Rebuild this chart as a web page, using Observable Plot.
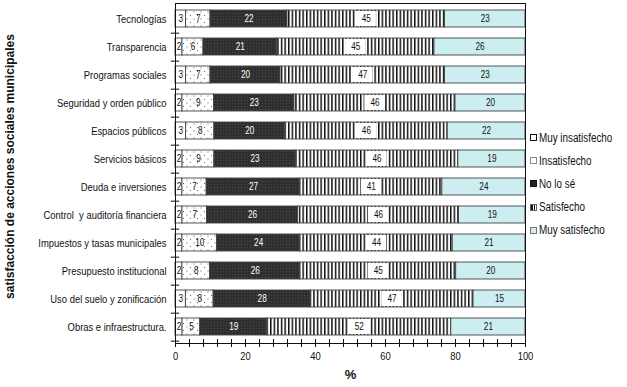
<!DOCTYPE html>
<html><head><meta charset="utf-8">
<script src="https://cdn.jsdelivr.net/npm/d3@7"></script>
<script src="https://cdn.jsdelivr.net/npm/@observablehq/plot@0.6"></script>
<style>
body{margin:0;background:#fff;}
#wrap{position:relative;width:627px;height:387px;overflow:hidden;}
#legend{position:absolute;left:530px;top:126px;font-family:"Liberation Sans",Arial,sans-serif;font-size:12px;color:#111;}
#legend .it{display:flex;align-items:center;height:23.2px;white-space:nowrap;}
#legend .sw{width:7px;height:7px;margin-right:2px;box-sizing:border-box;flex:none;}
#legend span{display:inline-block;transform:scaleX(0.82);transform-origin:left center;}
</style></head>
<body><div id="wrap"><div id="legend"></div></div>
<script>
const categories = ["Tecnologías","Transparencia","Programas sociales","Seguridad y orden público","Espacios públicos","Servicios básicos","Deuda e inversiones","Control  y auditoría financiera","Impuestos y tasas municipales","Presupuesto institucional","Uso del suelo y zonificación","Obras e infraestructura."];
const levels = ["Muy insatisfecho","Insatisfecho","No lo sé","Satisfecho","Muy satisfecho"];
const muyInsatisfecho = [3,2,3,2,3,2,2,2,2,2,3,2];
const insatisfecho   = [7,6,7,9,8,9,7,7,10,8,8,5];
const noLoSe         = [22,21,20,23,20,23,27,26,24,26,28,19];
const satisfecho     = [45,45,47,46,46,46,41,46,44,45,47,52];
const muySatisfecho  = [23,26,23,20,22,19,24,19,21,20,15,21];
const xTicks = [0,20,40,60,80,100];
const minorStep = 4;
const yTitle = "satisfacción de acciones sociales municipales";
const xTitle = "%";

const series = [muyInsatisfecho, insatisfecho, noLoSe, satisfecho, muySatisfecho];
const rows = [];
categories.forEach((cat, i) => {
  const total = d3.sum(series, s => s[i]);
  let acc = 0;
  series.forEach((s, k) => {
    const share = s[i] * 100 / total;
    rows.push({cat, level: levels[k], value: s[i], x1: acc, x2: acc + share, mid: acc + share / 2});
    acc += share;
  });
});

const W = 627, H = 387, mT = 3, mB = 44, mL = 175, mR = 102;
const step = (H - mT - mB) / categories.length;
const font = '"Liberation Sans",Arial,sans-serif';

const svg = Plot.plot({
  width: W, height: H,
  marginTop: mT, marginBottom: mB, marginLeft: mL, marginRight: mR,
  style: {fontFamily: font, fontSize: "11.5px", color: "#111", background: "white"},
  x: {domain: [0, 100], ticks: xTicks, tickSize: 0, tickPadding: 8, label: null},
  y: {domain: categories, paddingInner: 0.38, paddingOuter: 0.19, tickSize: 0, tickPadding: 9, label: null},
  color: {type: "ordinal", domain: levels, range: ["#ffffff", "url(#dots)", "url(#stipple)", "url(#stripes)", "#cdeef0"]},
  marks: [
    Plot.barX(rows, {x1: "x1", x2: "x2", y: "cat", fill: "level", stroke: "#444", strokeWidth: 0.9}),
    Plot.barX(rows.filter(d => d.level === "Satisfecho"), {x1: d => d.mid - 2.9, x2: d => d.mid + 2.9, y: "cat", fill: "white", insetTop: 1, insetBottom: 1}),
    Plot.text(rows.filter(d => d.level !== "No lo sé"), {x: "mid", y: "cat", text: d => String(d.value), fill: "#111", fontSize: 10}),
    Plot.text(rows.filter(d => d.level === "No lo sé"), {x: "mid", y: "cat", text: d => String(d.value), fill: "white", fontSize: 10}),
    Plot.frame({stroke: "#111"}),
    Plot.ruleY(categories, {y: d => d, x1: -1.2, x2: 1.2, dy: step / 2, stroke: "#111"}),
    Plot.tickX(d3.range(0, 101, minorStep), {x: d => d, insetTop: H - mT - mB - 4, insetBottom: -4, stroke: "#111"}),
    Plot.text([xTitle], {text: d => d, frameAnchor: "bottom", dy: 35, fontWeight: "bold", fontSize: 13}),
    Plot.text([yTitle], {text: d => d, frameAnchor: "left", textAnchor: "middle", dx: -165, dy: -7, rotate: -90, fontWeight: "bold", fontSize: 12})
  ]
});

d3.select(svg).insert("defs", ":first-child").html(`
  <pattern id="dots" width="7" height="7" patternUnits="userSpaceOnUse">
    <rect width="7" height="7" fill="#fff"/>
    <rect x="1" y="1" width="1" height="1" fill="#666"/>
    <rect x="4.5" y="4.5" width="1" height="1" fill="#666"/>
  </pattern>
  <pattern id="stipple" width="3" height="3" patternUnits="userSpaceOnUse">
    <rect width="3" height="3" fill="#2f2f2f"/>
    <rect x="1" y="1" width="1" height="1" fill="#4a4a4a"/>
  </pattern>
  <pattern id="stripes" width="3.6" height="4" patternUnits="userSpaceOnUse">
    <rect width="3.6" height="4" fill="#fff"/>
    <rect width="1.5" height="4" fill="#111"/>
  </pattern>`);

// condense regular texts (Arial Narrow look)
const isNum = v => v != null && /^-?[\d.]+(e-?\d+)?$/.test(v.trim());
d3.select(svg).selectAll("text").each(function() {
  const t = this;
  const txt = t.textContent;
  t.style.whiteSpace = "pre";
  if (txt === xTitle || txt === yTitle) return;
  let x = 0, y = 0;
  const ax = t.getAttribute("x"), ay = t.getAttribute("y");
  if (isNum(ax)) { x = +ax; t.removeAttribute("x"); }
  if (isNum(ay)) { y = +ay; t.removeAttribute("y"); }
  const tr = t.getAttribute("transform") || "";
  t.setAttribute("transform", `${tr} translate(${x},${y}) scale(0.82,1)`);
});
document.getElementById("wrap").prepend(svg);

const swStyles = [
  "background:#fff;border:1px solid #111;",
  "background:#fff;border:1px solid #888;",
  "background:#222;border:1px solid #111;",
  "background:repeating-linear-gradient(90deg,#111 0 1.5px,#fff 1.5px 3px);border:1px solid #666;",
  "background:#cdeef0;border:1px solid #777;"
];
const legend = d3.select("#legend");
levels.forEach((l, i) => {
  const it = legend.append("div").attr("class", "it");
  it.append("div").attr("class", "sw").attr("style", swStyles[i]);
  it.append("span").text(l);
});
</script></body></html>
